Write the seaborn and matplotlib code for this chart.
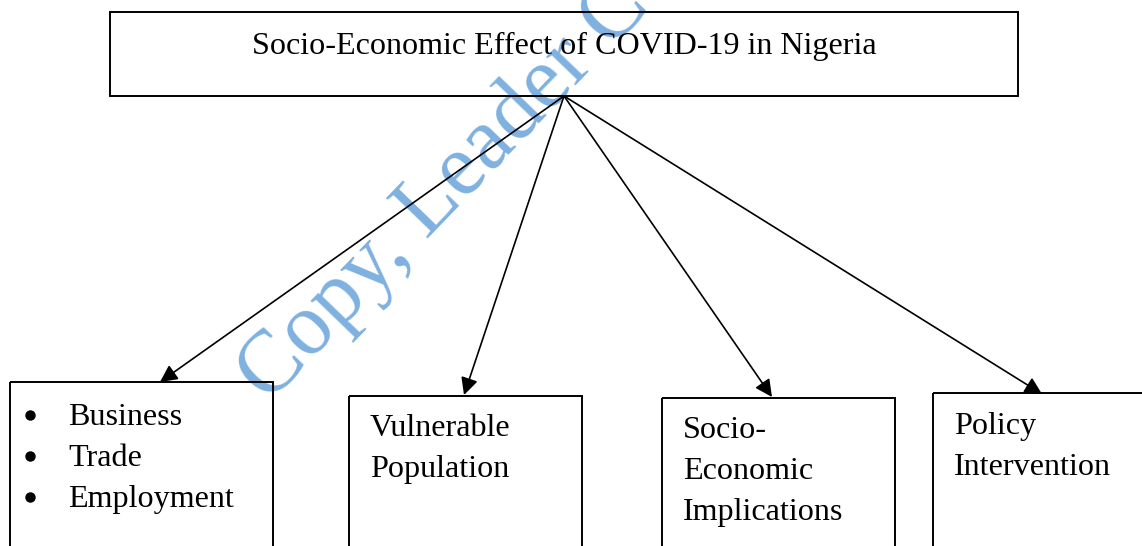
import matplotlib
matplotlib.use("Agg")
import matplotlib.pyplot as plt
import seaborn as sns
from matplotlib.patches import Rectangle

# ------------------------- DIAGRAM CONTENT ------------------------- #

title = "Socio-Economic Effect of COVID-19 in Nigeria"
child_lines = [
    ["Business", "Trade", "Employment"],
    ["Vulnerable", "Population"],
    ["Socio-", "Economic", "Implications"],
    ["Policy", "Intervention"],
]
child_bullets = [True, False, False, False]
watermark = "Copy, Leader Copy"

# ------------------------- LAYOUT (pixels) ------------------------- #

W, H = 1142, 546
top_box = (110, 12, 908, 84)            # x, y, w, h
title_baseline = 54
root = (564, 96)
child_boxes = [(10, 382), (349, 396), (662, 398), (933, 393)]
child_w = [263, 233, 233, 240]
arrow_tips = [(160, 382), (464, 395), (772, 397), (1042, 394)]
first_baseline = [425, 436, 438, 434]
text_x = [68, 370, 683, 954]
line_gap = 41

sns.set_theme(style="white")
plt.rcParams['font.family'] = ['Liberation Serif', 'DejaVu Serif']

fig = plt.figure(figsize=(W / 100, H / 100), dpi=100)
ax = fig.add_axes([0, 0, 1, 1])
ax.set_xlim(0, W)
ax.set_ylim(H, 0)
ax.axis("off")

FS = 23.1

# watermark
ax.text(268, 404, watermark, rotation=46, rotation_mode="anchor",
        ha="left", va="baseline", fontsize=63, color="#7fb1e0", zorder=0)

# top box
x, y, w, h = top_box
ax.add_patch(Rectangle((x, y), w, h, fill=False, ec="black", lw=1.4, zorder=2))
ax.text(x + w / 2, title_baseline, title, ha="center", va="baseline",
        fontsize=FS, color="black", zorder=3)

# child boxes, arrows and text
for i, lines in enumerate(child_lines):
    bx, by = child_boxes[i]
    ax.add_patch(Rectangle((bx, by), child_w[i], H + 20 - by, fill=False,
                           ec="black", lw=1.4, zorder=2))
    ax.annotate("", xy=arrow_tips[i], xytext=root,
                arrowprops=dict(arrowstyle="-|>", color="black", lw=1.2,
                                mutation_scale=26, shrinkA=0, shrinkB=0),
                zorder=3)
    for j, line in enumerate(lines):
        ty = first_baseline[i] + j * line_gap
        if child_bullets[i]:
            ax.plot([30], [ty - 10], marker="o", markersize=6.5,
                    color="black", zorder=3)
        ax.text(text_x[i], ty, line, ha="left", va="baseline", fontsize=FS,
                color="black", zorder=3)

fig.savefig("out.png", dpi=100, facecolor="white")
